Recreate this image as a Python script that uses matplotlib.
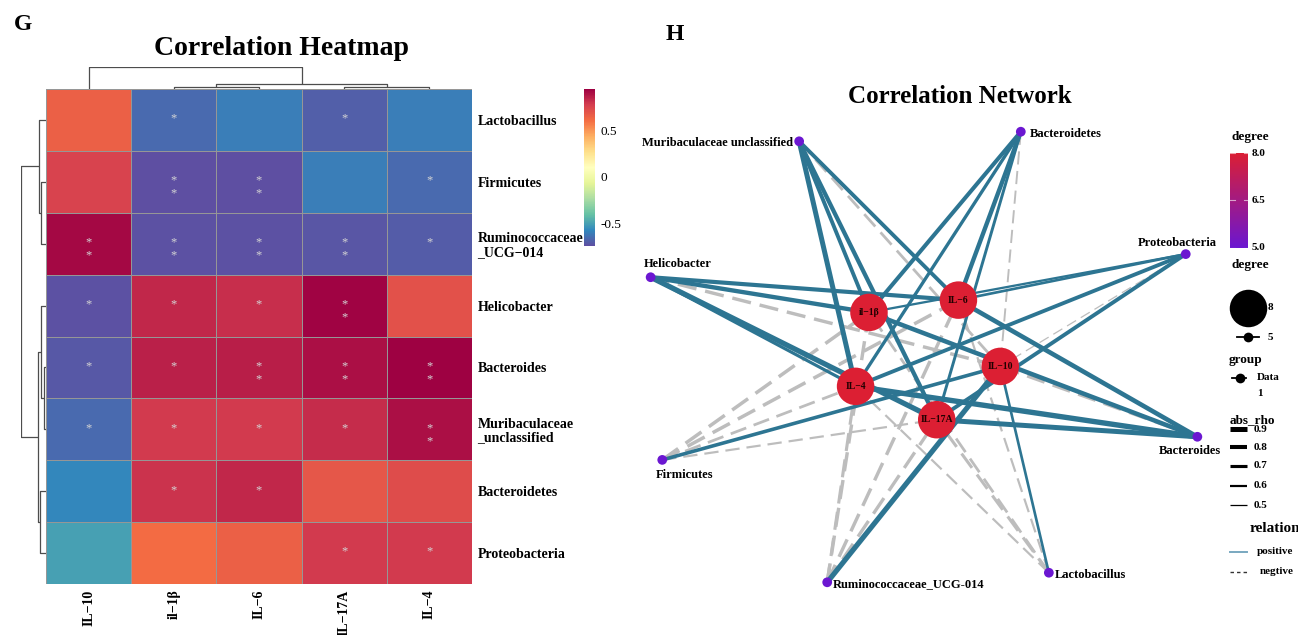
import numpy as np
import matplotlib
matplotlib.use('Agg')
import matplotlib.pyplot as plt
from matplotlib.colors import Normalize, LinearSegmentedColormap

plt.rcParams['font.family'] = ['Liberation Serif', 'DejaVu Serif']
plt.rcParams['font.weight'] = 'bold'
plt.rcParams['lines.scale_dashes'] = False

# ---- data -------------------------------------------------------------
taxa = ['Lactobacillus', 'Firmicutes', 'Ruminococcaceae_UCG-014', 'Helicobacter',
        'Bacteroides', 'Muribaculaceae unclassified', 'Bacteroidetes', 'Proteobacteria']
row_labels = ['Lactobacillus', 'Firmicutes', 'Ruminococcaceae\n_UCG\u2212014', 'Helicobacter',
              'Bacteroides', 'Muribaculaceae\n_unclassified', 'Bacteroidetes', 'Proteobacteria']
cytokines = ['IL\u221210', 'il\u22121\u03b2', 'IL\u22126', 'IL\u221217A', 'IL\u22124']

# spearman rho, rows = taxa, cols = cytokines
rho = np.array([
    [0.65, -0.66, -0.60, -0.69, -0.60],
    [0.75, -0.74, -0.74, -0.60, -0.66],
    [0.92, -0.73, -0.73, -0.72, -0.70],
    [-0.73, 0.83, 0.81, 0.93, 0.70],
    [-0.71, 0.85, 0.86, 0.90, 0.94],
    [-0.66, 0.78, 0.78, 0.82, 0.90],
    [-0.57, 0.80, 0.83, 0.68, 0.72],
    [-0.50, 0.61, 0.65, 0.78, 0.78],
])
# number of significance stars per cell
stars = np.array([
    [0, 1, 0, 1, 0],
    [0, 2, 2, 0, 1],
    [2, 2, 2, 2, 1],
    [1, 1, 1, 2, 0],
    [1, 1, 2, 2, 2],
    [1, 1, 1, 1, 2],
    [0, 1, 1, 0, 0],
    [0, 0, 0, 1, 1],
])

# clustering trees: (left, right, height); ints are leaf indices
row_tree = ((0, (1, 2, 0.19), 0.28), ((3, (4, 5, 0.09), 0.20), (6, 7, 0.23), 0.33), 1.0)
col_tree = (0, ((1, 2, 0.08), (3, 4, 0.08), 0.23), 1.0)

# network node order on the rings
outer_order = ['Muribaculaceae unclassified', 'Bacteroidetes', 'Proteobacteria', 'Bacteroides',
               'Lactobacillus', 'Ruminococcaceae_UCG-014', 'Firmicutes', 'Helicobacter']
inner_order = ['il\u22121\u03b2', 'IL\u22126', 'IL\u221210', 'IL\u221217A', 'IL\u22124']
rho_breaks = [0.9, 0.8, 0.7, 0.6, 0.5]
degree_breaks = [8, 5]

W, H = 1298, 635
fig = plt.figure(figsize=(W / 100, H / 100), dpi=100)


def box(x0, y0, x1, y1):
    # pixel box (y down) -> figure fraction rect
    return [x0 / W, 1 - y1 / H, (x1 - x0) / W, (y1 - y0) / H]


ov = fig.add_axes([0, 0, 1, 1])
ov.set_xlim(0, W)
ov.set_ylim(H, 0)
ov.axis('off')

# ---- heatmap ----------------------------------------------------------
cmap = plt.get_cmap('Spectral_r')
norm = Normalize(rho.min(), rho.max())
hm = fig.add_axes(box(46, 89, 472, 584))
mesh = hm.pcolormesh(rho, cmap=cmap, norm=norm, edgecolors='#969696', linewidth=0.6)
hm.set_xlim(0, 5)
hm.set_ylim(8, 0)
for s in hm.spines.values():
    s.set_visible(False)
hm.yaxis.tick_right()
hm.set_yticks(np.arange(8) + 0.5)
hm.set_yticklabels(row_labels, fontsize=10, linespacing=1.05)
hm.set_xticks(np.arange(5) + 0.5)
hm.set_xticklabels(cytokines, fontsize=10, rotation=90, va='top')
hm.tick_params(length=0, pad=4)
for i in range(rho.shape[0]):
    for j in range(rho.shape[1]):
        for k in range(stars[i, j]):
            hm.text(j + 0.5, i + 0.48 + 0.21 * k, '*', ha='center', va='center',
                    color='#d4d4d4', fontsize=9, fontweight='normal')


def draw_tree(ax, node, orient):
    if isinstance(node, int):
        return node + 0.5, 0.0
    left, right, h = node
    p1, h1 = draw_tree(ax, left, orient)
    p2, h2 = draw_tree(ax, right, orient)
    pos = [p1, p1, p2, p2]
    hts = [h1, h, h, h2]
    if orient == 'top':
        ax.plot(pos, hts, color='#4d4d4d', lw=0.9, solid_capstyle='butt')
    else:
        ax.plot(hts, pos, color='#4d4d4d', lw=0.9, solid_capstyle='butt')
    return (p1 + p2) / 2, h


rd = fig.add_axes(box(20.7, 89, 46, 584))
draw_tree(rd, row_tree, 'left')
rd.set_xlim(1, 0)
rd.set_ylim(8, 0)
rd.axis('off')

cd = fig.add_axes(box(46, 67, 472, 89))
draw_tree(cd, col_tree, 'top')
cd.set_xlim(0, 5)
cd.set_ylim(0, 1)
cd.axis('off')

cax = fig.add_axes(box(584, 89, 595, 246))
cb = fig.colorbar(mesh, cax=cax)
cb.outline.set_visible(False)
cb.set_ticks([0.5, 0, -0.5])
cb.set_ticklabels(['0.5', '0', '-0.5'])
cax.tick_params(length=0, pad=4, labelsize=9.5)
for t in cax.get_yticklabels():
    t.set_fontweight('normal')

ov.text(23, 25, 'G', fontsize=17, ha='center', va='center')
ov.text(282, 55, 'Correlation Heatmap', fontsize=20, ha='center', va='baseline')

# ---- network ----------------------------------------------------------
deg_cmap = LinearSegmentedColormap.from_list('deg', ['#6b17d1', '#dc1f33'])
deg_norm = Normalize(5, 8)


def node_diam(d):
    return 7 + (d - 5) / 3 * 20


def edge_width(r):
    return 0.9 + (r - 0.5) / 0.4 * 2.7


def ring(names, radius, start):
    ang = np.deg2rad(start + 360.0 * np.arange(len(names)) / len(names))
    return {n: (radius * np.cos(a), radius * np.sin(a)) for n, a in zip(names, ang)}


pos = ring(outer_order, 1.0, -115.5)
pos.update(ring(inner_order, 0.266, -135.5))

net = fig.add_axes(box(634, 118, 1214, 596))
net.set_xlim(-1, 1)
net.set_ylim(1, -1)
net.axis('off')

degree = {}
for i, t in enumerate(taxa):
    for j, c in enumerate(cytokines):
        degree[t] = degree.get(t, 0) + 1
        degree[c] = degree.get(c, 0) + 1

# negative edges first, positive edges on top
for sign in (-1, 1):
    for i, t in enumerate(taxa):
        for j, c in enumerate(cytokines):
            r = rho[i, j]
            if np.sign(r) != sign or abs(r) < 0.5:
                continue
            (x1, y1), (x2, y2) = pos[t], pos[c]
            lw = edge_width(abs(r))
            if r > 0:
                net.plot([x1, x2], [y1, y2], color='#2d7592', lw=lw, clip_on=False,
                         solid_capstyle='butt', zorder=2)
            else:
                net.plot([x1, x2], [y1, y2], color='#bdbdbd', lw=lw, clip_on=False,
                         dashes=(4 + 4 * lw, 2.5 + 1.6 * lw), zorder=1)

for names in (outer_order, inner_order):
    xs = [pos[n][0] for n in names]
    ys = [pos[n][1] for n in names]
    d = np.array([degree[n] for n in names])
    net.scatter(xs, ys, s=node_diam(d) ** 2, c=deg_cmap(deg_norm(d)), linewidths=0,
                clip_on=False, zorder=3)

for n in inner_order:
    net.text(pos[n][0], pos[n][1], n, ha='center', va='center', fontsize=7,
             color='#200000', zorder=4)

# label offsets in pixels (dx, dy with y down) and alignment
label_off = {
    'Muribaculaceae unclassified': (-6, 2, 'right'),
    'Bacteroidetes': (9, 2, 'left'),
    'Proteobacteria': (-8, -11, 'center'),
    'Bacteroides': (-7, 14, 'center'),
    'Lactobacillus': (6, 2, 'left'),
    'Ruminococcaceae_UCG-014': (6, 2, 'left'),
    'Firmicutes': (22, 15, 'center'),
    'Helicobacter': (27, -13, 'center'),
}
for n in outer_order:
    dx, dy, ha = label_off[n]
    net.annotate(n, pos[n], xytext=(dx * 0.72, -dy * 0.72), textcoords='offset points',
                 ha=ha, va='center', fontsize=9, annotation_clip=False, zorder=4)

ov.text(675, 34, 'H', fontsize=17, ha='center', va='center')
ov.text(960, 103, 'Correlation Network', fontsize=18, ha='center', va='baseline')

# ---- network legends --------------------------------------------------
ov.text(1250, 137, 'degree', fontsize=9.5, ha='center', va='center')
dax = fig.add_axes(box(1230, 153, 1248, 248))
grad = np.linspace(5, 8, 200).reshape(-1, 1)
dax.imshow(grad, cmap=deg_cmap, norm=deg_norm, aspect='auto', origin='lower',
           extent=(0, 1, 5, 8))
dax.set_xlim(0, 1)
dax.set_ylim(5, 8)
dax.axis('off')
for v in (5.0, 6.5, 8.0):
    dax.plot([0, 0.25], [v, v], color='white', lw=0.8, alpha=0.6)
    dax.plot([0.75, 1], [v, v], color='white', lw=0.8, alpha=0.6)
    ov.text(1252, 248 - (v - 5) / 3 * 95, f'{v:.1f}', fontsize=8, ha='left', va='center')

ov.text(1250, 265, 'degree', fontsize=9.5, ha='center', va='center')
for d, y in zip(degree_breaks, (308, 337)):
    if d == 5:
        ov.plot([1237, 1259], [y, y], color='black', lw=1.3)
    ov.scatter([1248], [y], s=node_diam(d) ** 2, color='black', linewidths=0)
    ov.text(1268, y, str(d), fontsize=8, ha='left', va='center')

ov.text(1229, 360, 'group', fontsize=9.5, ha='left', va='center')
ov.plot([1232, 1246], [378, 378], color='black', lw=1.3)
ov.scatter([1240], [378], s=node_diam(5) ** 2, color='black', linewidths=0)
ov.text(1257, 378, 'Data', fontsize=8, ha='left', va='center')
ov.text(1257, 393, '1', fontsize=8, ha='left', va='center')

ov.text(1230, 420, 'abs_rho', fontsize=9.5, ha='left', va='center')
for r, y in zip(rho_breaks, (429, 447, 466, 486, 505)):
    ov.plot([1230, 1247], [y, y], color='black', lw=edge_width(r), solid_capstyle='butt')
    ov.text(1254, y, f'{r:.1f}', fontsize=8, ha='left', va='center')

ov.text(1275, 528, 'relation', fontsize=11, ha='center', va='center')
ov.plot([1230, 1247], [552, 552], color='#79a8c0', lw=1.4)
ov.text(1257, 552, 'positive', fontsize=8, ha='left', va='center')
ov.plot([1230, 1247], [572, 572], color='#333333', lw=1.0, dashes=(2.5, 2.2))
ov.text(1260, 572, 'negtive', fontsize=8, ha='left', va='center')

fig.savefig('out.png', dpi=100)
